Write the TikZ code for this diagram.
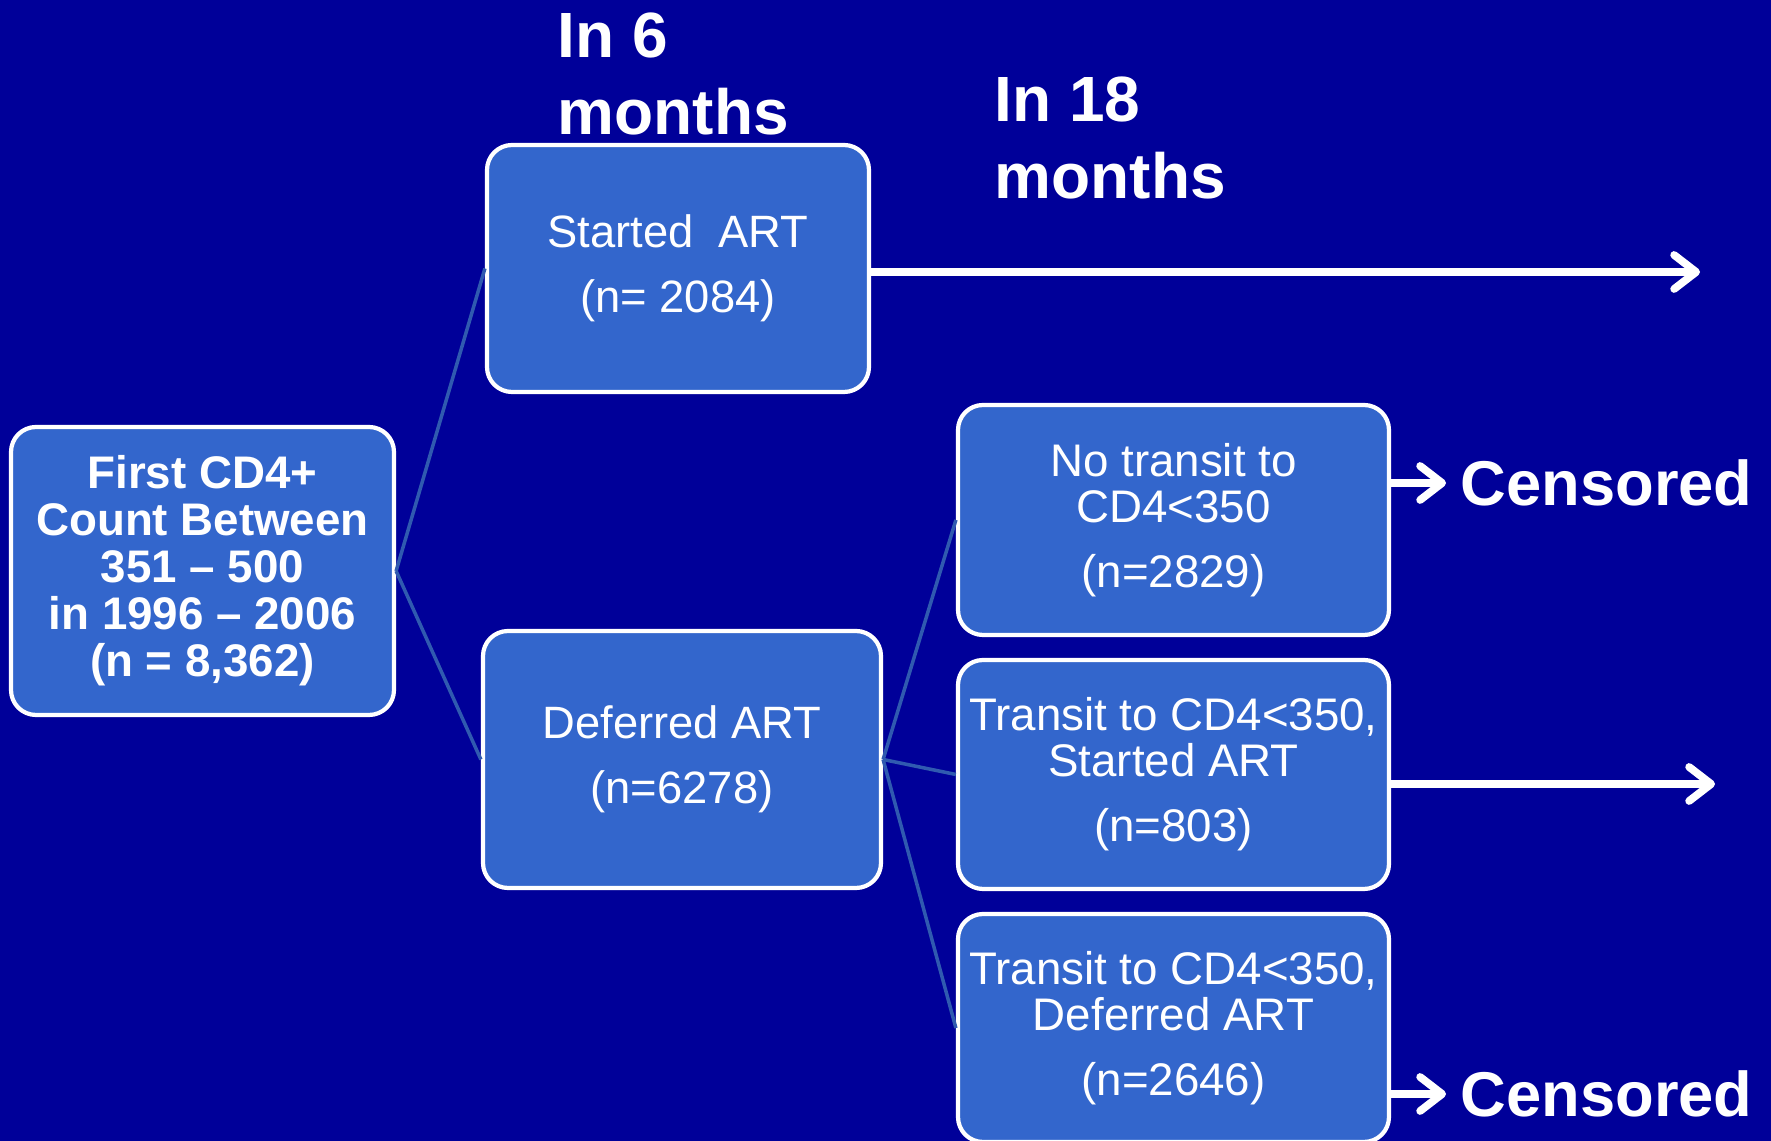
\documentclass[tikz,border=0pt]{standalone}
\usepackage{fontspec}
\setmainfont{Liberation Sans}
\usetikzlibrary{arrows.meta}
\definecolor{navy}{RGB}{0,0,153}
\definecolor{boxblue}{RGB}{51,102,204}
\definecolor{linkblue}{RGB}{48,90,176}
\tikzset{
	stage/.style={draw=white, line width=1.2pt, fill=boxblue, rounded corners=0.25cm, text=white, align=center, inner sep=0pt, font=\fontsize{12.9pt}{13.1pt}\selectfont},
	period/.style={text=white, align=left, anchor=north west, inner sep=0pt, font=\bfseries\fontsize{18.2pt}{21.9pt}\selectfont},
	censor/.style={text=white, anchor=west, inner sep=0pt, font=\bfseries\fontsize{18pt}{20pt}\selectfont},
	link/.style={linkblue, line width=1pt},
	flow/.style={white, line width=2.2pt, -{Straight Barb[round, length=2.2mm, width=3.4mm]}},
}

\begin{document}
\begin{tikzpicture}[y=-1cm]
	\clip (0,0) rectangle (17.71,11.41);
	\fill[navy] (0,0) rectangle (17.71,11.41);
	
	\node[period] (six) at (5.57,0.12) {In 6\\months};
	\node[period] (eighteen) at (9.94,0.76) {In 18\\months};
	
	\node[stage, minimum width=3.83cm, minimum height=2.88cm, font=\bfseries\fontsize{13pt}{13.4pt}\selectfont] (first) at (2.025,5.71) {First CD4+\\Count Between\\351 -- 500\\in 1996 -- 2006\\(n = 8,362)};
	
	\node[stage, minimum width=3.82cm, minimum height=2.47cm] (started) at (6.78,2.685) {Started~~ART\\[5.4pt](n= 2084)};
	\node[stage, minimum width=3.98cm, minimum height=2.57cm] (deferred) at (6.82,7.595) {Deferred ART\\[5.4pt](n=6278)};
	
	\node[stage, minimum width=4.31cm, minimum height=2.30cm, font=\fontsize{13pt}{13.1pt}\selectfont] (notrans) at (11.735,5.20) {No transit to\\CD4<350\\[5.4pt](n=2829)};
	\node[stage, minimum width=4.31cm, minimum height=2.29cm, font=\fontsize{13pt}{13.1pt}\selectfont] (tstart) at (11.735,7.745) {Transit to CD4<350,\\Started ART\\[5.4pt](n=803)};
	\node[stage, minimum width=4.31cm, minimum height=2.28cm, font=\fontsize{13pt}{13.1pt}\selectfont] (tdefer) at (11.735,10.28) {Transit to CD4<350,\\Deferred ART\\[5.4pt](n=2646)};
	
	\node[censor] (cens1) at (14.60,4.83) {Censored};
	\node[censor] (cens2) at (14.60,10.94) {Censored};
	
	\draw[link] (first.east) -- (started.west);
	\draw[link] (first.east) -- (deferred.west);
	\draw[link] (deferred.east) -- (notrans.west);
	\draw[link] (deferred.east) -- (tstart.west);
	\draw[link] (deferred.east) -- (tdefer.west);
	
	\coordinate (startend) at (17.00,2.72);
	\coordinate (transend) at (17.15,7.84);
	\draw[flow] (started.east |- startend) -- (startend);
	\draw[flow] (tstart.east |- transend) -- (transend);
	\draw[flow] (notrans.east |- cens1) -- ([xshift=-0.14cm]cens1.west);
	\draw[flow] (tdefer.east |- cens2) -- ([xshift=-0.14cm]cens2.west);
	
\end{tikzpicture}
\end{document}
